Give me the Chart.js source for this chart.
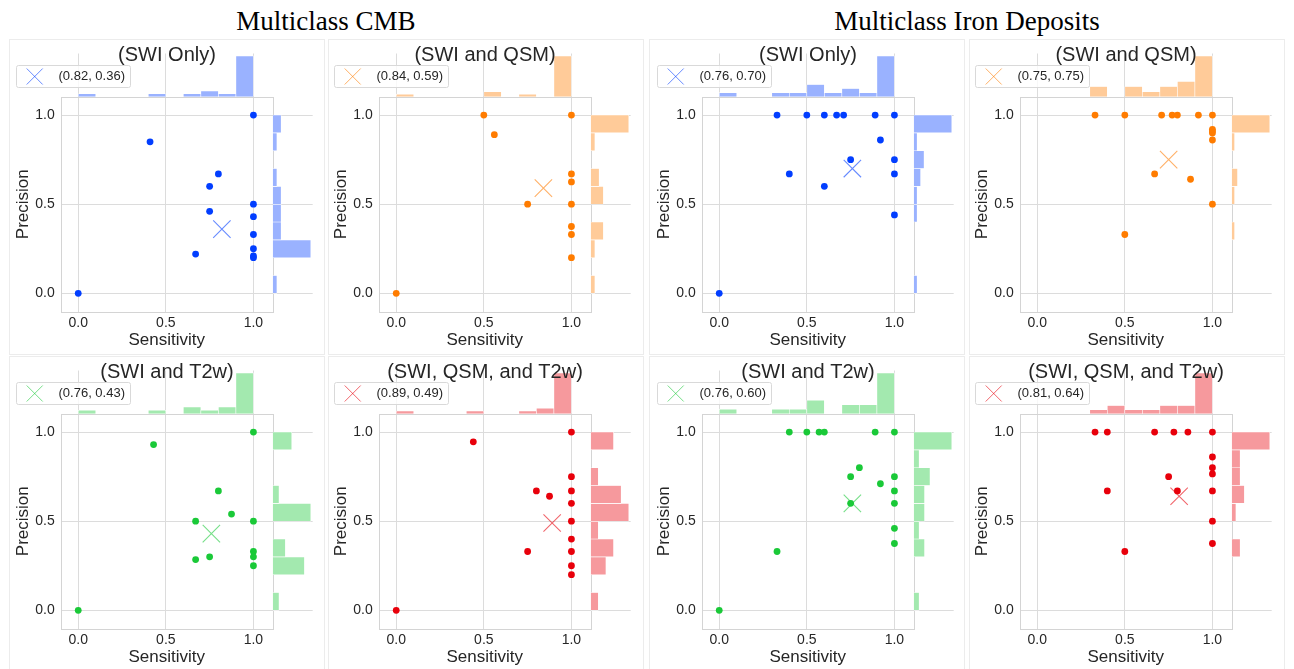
<!DOCTYPE html>
<html>
<head>
<meta charset="utf-8">
<script src="https://cdn.jsdelivr.net/npm/chart.js@4.4.1/dist/chart.umd.min.js"></script>
<style>
body { margin:0; background:#fff; width:1294px; height:669px; position:relative; overflow:hidden; }
.bigtitle { position:absolute; top:6px; font-family:"Liberation Serif","Times New Roman",serif; font-size:27px; line-height:30px; color:#000; transform:translateX(-50%); white-space:nowrap; }
.panel { position:absolute; width:316px; height:316px; border:1px solid #ececec; box-sizing:border-box; }
canvas { position:absolute; }
</style>
</head>
<body>
<div class="bigtitle" style="left:326px">Multiclass CMB</div>
<div class="bigtitle" style="left:967px">Multiclass Iron Deposits</div>
<script>
// histogram bins (0.1 wide, 0..1) and axis ticks
const binMids = [0.05, 0.15, 0.25, 0.35, 0.45, 0.55, 0.65, 0.75, 0.85, 0.95];
const tickVals = [0, 0.5, 1.0];

// Multiclass CMB - SWI only
const cmbSwiSens = [0, 0.41, 1, 0.8, 0.75, 0.75, 0.67, 1, 1, 1, 1, 1, 1];
const cmbSwiPrec = [0, 0.85, 1, 0.67, 0.6, 0.46, 0.22, 0.5, 0.43, 0.33, 0.25, 0.21, 0.2];
const cmbSwiSensHist = [1, 0, 0, 0, 1, 0, 1, 2, 1, 14];
const cmbSwiPrecHist = [1, 0, 9, 2, 2, 2, 1, 0, 1, 2];
// Multiclass CMB - SWI and QSM
const cmbQsmSens = [0, 0.5, 0.56, 1, 1, 1, 0.75, 1, 1, 1, 1];
const cmbQsmPrec = [0, 1, 0.89, 1, 0.67, 0.625, 0.5, 0.5, 0.375, 0.33, 0.2];
const cmbQsmSensHist = [1, 0, 0, 0, 0, 2, 0, 1, 0, 16];
const cmbQsmPrecHist = [1, 0, 1, 3, 0, 3, 2, 0, 1, 9];
// Multiclass CMB - SWI and T2w
const cmbT2Sens = [0, 0.43, 1, 0.8, 0.875, 0.67, 1, 1, 1, 0.75, 0.67, 1];
const cmbT2Prec = [0, 0.93, 1, 0.67, 0.54, 0.5, 0.5, 0.33, 0.3, 0.3, 0.285, 0.25];
const cmbT2SensHist = [1, 0, 0, 0, 1, 0, 2, 1, 2, 12];
const cmbT2PrecHist = [1, 0, 5, 2, 0, 6, 1, 0, 0, 3];
// Multiclass CMB - SWI, QSM and T2w
const cmbAllSens = [0, 0.44, 1, 1, 0.8, 0.875, 1, 1, 1, 1, 1, 0.75, 1, 1];
const cmbAllPrec = [0, 0.945, 1, 0.75, 0.67, 0.64, 0.67, 0.6, 0.5, 0.4, 0.33, 0.33, 0.25, 0.2];
const cmbAllSensHist = [1, 0, 0, 0, 1, 0, 0, 1, 2, 15];
const cmbAllPrecHist = [1, 0, 2, 3, 1, 5, 4, 1, 0, 3];

// Multiclass Iron - SWI only
const ironSwiSens = [0, 0.33, 0.5, 0.6, 0.67, 0.71, 0.89, 1, 0.92, 0.75, 1, 0.4, 1, 0.6, 1];
const ironSwiPrec = [0, 1, 1, 1, 1, 1, 1, 1, 0.86, 0.75, 0.75, 0.67, 0.67, 0.6, 0.44];
const ironSwiSensHist = [1, 0, 0, 1, 1, 3, 1, 2, 1, 10];
const ironSwiPrecHist = [1, 0, 0, 0, 1, 1, 2, 3, 1, 11];
// Multiclass Iron - SWI and QSM
const ironQsmSens = [0.33, 0.5, 0.71, 0.77, 0.8, 0.92, 1, 1, 1, 1, 1, 0.67, 0.875, 1, 0.5];
const ironQsmPrec = [1, 1, 1, 1, 1, 1, 1, 0.92, 0.91, 0.9, 0.86, 0.67, 0.64, 0.5, 0.33];
const ironQsmSensHist = [0, 0, 0, 2, 0, 2, 1, 2, 3, 8];
const ironQsmPrecHist = [0, 0, 0, 1, 0, 1, 2, 0, 1, 13];
// Multiclass Iron - SWI and T2w
const ironT2Sens = [0, 0.33, 0.4, 0.5, 0.57, 0.6, 0.89, 1, 0.8, 0.75, 1, 0.92, 1, 0.75, 1, 1, 1];
const ironT2Prec = [0, 0.33, 1, 1, 1, 1, 1, 1, 0.8, 0.75, 0.75, 0.71, 0.67, 0.6, 0.6, 0.46, 0.375];
const ironT2SensHist = [1, 0, 0, 1, 1, 3, 0, 2, 2, 9];
const ironT2PrecHist = [1, 0, 0, 2, 1, 2, 2, 3, 1, 7];
// Multiclass Iron - SWI, QSM and T2w
const ironAllSens = [0.33, 0.4, 0.67, 0.78, 0.86, 1, 1, 1, 1, 0.75, 0.4, 0.8, 1, 1, 1, 0.5];
const ironAllPrec = [1, 1, 1, 1, 1, 1, 0.86, 0.8, 0.765, 0.75, 0.67, 0.67, 0.67, 0.5, 0.375, 0.33];
const ironAllSensHist = [0, 0, 0, 1, 2, 1, 1, 2, 2, 10];
const ironAllPrecHist = [0, 0, 0, 2, 0, 1, 3, 2, 2, 9];

// mean (sensitivity, precision) per panel, in panel order
const meanSens = [0.82, 0.84, 0.76, 0.75, 0.76, 0.89, 0.76, 0.81];
const meanPrec = [0.36, 0.59, 0.70, 0.75, 0.43, 0.49, 0.60, 0.64];

const blue = { dot: '#023eff', bar: '#9ab2ff', cross: 'rgba(2,62,255,0.6)' };
const orange = { dot: '#ff7c00', bar: '#ffcb99', cross: 'rgba(255,124,0,0.6)' };
const green = { dot: '#1ac938', bar: '#a3e9af', cross: 'rgba(26,201,56,0.6)' };
const red = { dot: '#e8000b', bar: '#f6999d', cross: 'rgba(232,0,11,0.6)' };

const panels = [
  { title: '(SWI Only)', col: blue, sens: cmbSwiSens, prec: cmbSwiPrec, sh: cmbSwiSensHist, ph: cmbSwiPrecHist, left: 9, top: 39, bl: 9, bt: 39 },
  { title: '(SWI and QSM)', col: orange, sens: cmbQsmSens, prec: cmbQsmPrec, sh: cmbQsmSensHist, ph: cmbQsmPrecHist, left: 327, top: 39, bl: 328, bt: 39 },
  { title: '(SWI Only)', col: blue, sens: ironSwiSens, prec: ironSwiPrec, sh: ironSwiSensHist, ph: ironSwiPrecHist, left: 650, top: 39, bl: 649, bt: 39 },
  { title: '(SWI and QSM)', col: orange, sens: ironQsmSens, prec: ironQsmPrec, sh: ironQsmSensHist, ph: ironQsmPrecHist, left: 968, top: 39, bl: 969, bt: 39 },
  { title: '(SWI and T2w)', col: green, sens: cmbT2Sens, prec: cmbT2Prec, sh: cmbT2SensHist, ph: cmbT2PrecHist, left: 9, top: 356, bl: 9, bt: 356 },
  { title: '(SWI, QSM, and T2w)', col: red, sens: cmbAllSens, prec: cmbAllPrec, sh: cmbAllSensHist, ph: cmbAllPrecHist, left: 327, top: 356, bl: 328, bt: 356 },
  { title: '(SWI and T2w)', col: green, sens: ironT2Sens, prec: ironT2Prec, sh: ironT2SensHist, ph: ironT2PrecHist, left: 650, top: 356, bl: 649, bt: 356 },
  { title: '(SWI, QSM, and T2w)', col: red, sens: ironAllSens, prec: ironAllPrec, sh: ironAllSensHist, ph: ironAllPrecHist, left: 968, top: 356, bl: 969, bt: 356 }
];

const txt = '#262626';
const lineCol = '#dcdcdc';
Chart.defaults.font.family = '"Liberation Sans", Arial, sans-serif';

// frame around joint axes, panel title and mean legend
const panelDeco = {
  id: 'panelDeco',
  beforeDatasetsDraw(chart) {
    var sx = chart.scales.x, sy = chart.scales.y, ctx = chart.ctx;
    ctx.save();
    ctx.strokeStyle = '#d4d4d4';
    ctx.lineWidth = 1;
    ctx.strokeRect(Math.round(sx.left) + 0.5, Math.round(sy.top) + 0.5, Math.round(sx.right - sx.left), Math.round(sy.bottom - sy.top));
    ctx.restore();
  },
  afterDraw(chart, args, opts) {
    var ctx = chart.ctx;
    ctx.save();
    ctx.fillStyle = txt;
    ctx.font = '20px "Liberation Sans", Arial, sans-serif';
    ctx.textAlign = 'center';
    ctx.textBaseline = 'middle';
    ctx.fillText(opts.title, chart.width / 2, 16);

    ctx.beginPath();
    ctx.roundRect(7.5, 26.5, 114, 22, 2);
    ctx.fillStyle = 'rgba(255,255,255,0.8)';
    ctx.fill();
    ctx.strokeStyle = '#d9d9d9';
    ctx.lineWidth = 1;
    ctx.stroke();

    ctx.beginPath();
    ctx.strokeStyle = opts.cross;
    ctx.moveTo(17.7, 29.5); ctx.lineTo(33.7, 45.5);
    ctx.moveTo(33.7, 29.5); ctx.lineTo(17.7, 45.5);
    ctx.stroke();

    ctx.fillStyle = txt;
    ctx.font = '13px "Liberation Sans", Arial, sans-serif';
    ctx.textAlign = 'left';
    ctx.fillText('(' + opts.mx.toFixed(2) + ', ' + opts.my.toFixed(2) + ')', 49.5, 37.5);
    ctx.restore();
  }
};

function makePanel(p, i) {
  var box = document.createElement('div');
  box.className = 'panel';
  box.style.left = p.bl + 'px';
  box.style.top = p.bt + 'px';
  document.body.appendChild(box);

  var c = document.createElement('canvas');
  c.width = 316;
  c.height = 316;
  c.style.left = p.left + 'px';
  c.style.top = p.top + 'px';
  document.body.appendChild(c);

  var pts = p.sens.map((s, k) => ({ x: s, y: p.prec[k] }));
  var topBars = binMids.map((m, k) => ({ x: m, y: p.sh[k] }));
  var sideBars = binMids.map((m, k) => ({ x: p.ph[k], y: m }));

  new Chart(c, {
    type: 'scatter',
    data: {
      datasets: [
        { type: 'scatter', data: [{ x: meanSens[i], y: meanPrec[i] }], xAxisID: 'x', yAxisID: 'y',
          pointStyle: 'crossRot', pointRadius: 12.3, borderWidth: 1.1, borderColor: p.col.cross, backgroundColor: 'rgba(0,0,0,0)' },
        { type: 'scatter', data: pts, xAxisID: 'x', yAxisID: 'y',
          pointRadius: 3.4, borderWidth: 0, backgroundColor: p.col.dot },
        { type: 'bar', data: topBars, xAxisID: 'x', yAxisID: 'yTop', grouped: false,
          barPercentage: 1, categoryPercentage: 1, backgroundColor: p.col.bar, borderColor: '#fff', borderWidth: 0.6 },
        { type: 'bar', indexAxis: 'y', data: sideBars, xAxisID: 'xRight', yAxisID: 'y', grouped: false,
          barPercentage: 1, categoryPercentage: 1, backgroundColor: p.col.bar, borderColor: '#fff', borderWidth: 0.6 }
      ]
    },
    options: {
      responsive: false,
      animation: false,
      events: [],
      layout: { autoPadding: false, padding: { top: 14.5, right: 12.3, bottom: 0, left: 0 } },
      scales: {
        yTop: { type: 'linear', axis: 'y', position: 'left', stack: 'left', stackWeight: 43.2, weight: 1,
          display: false, offset: false, grid: { offset: false }, min: 0, max: Math.max(...p.sh) * 1.06 },
        y: { type: 'linear', axis: 'y', position: 'left', stack: 'left', stackWeight: 215, weight: 0,
          min: -0.103, max: 1.103, offset: false,
          afterBuildTicks: s => { s.ticks = tickVals.map(v => ({ value: v })); },
          afterFit: s => { s.width = 51.7; },
          border: { display: false },
          grid: { color: lineCol, drawTicks: false, offset: false },
          ticks: { color: txt, padding: 6, font: { size: 14 }, callback: v => v.toFixed(1) },
          title: { display: true, text: 'Precision', color: txt, font: { size: 17 }, padding: { top: 4, bottom: 4 } } },
        x: { type: 'linear', axis: 'x', position: 'bottom', stack: 'bottom', stackWeight: 212, weight: 0,
          min: -0.1, max: 1.11, offset: false,
          afterBuildTicks: s => { s.ticks = tickVals.map(v => ({ value: v })); },
          afterFit: s => { s.height = 43.3; },
          border: { display: false },
          grid: { color: lineCol, drawTicks: false, offset: false },
          ticks: { color: txt, padding: 3, font: { size: 14 }, maxRotation: 0, callback: v => v.toFixed(1) },
          title: { display: true, text: 'Sensitivity', color: txt, font: { size: 17 }, padding: { top: 4, bottom: 4 } } },
        xRight: { type: 'linear', axis: 'x', position: 'bottom', stack: 'bottom', stackWeight: 40, weight: 1,
          display: false, offset: false, grid: { offset: false }, min: 0, max: Math.max(...p.ph) * 1.05 }
      },
      plugins: {
        legend: { display: false },
        tooltip: { enabled: false },
        panelDeco: { title: p.title, cross: p.col.cross, mx: meanSens[i], my: meanPrec[i] }
      }
    },
    plugins: [panelDeco]
  });
}

panels.forEach((p, i) => makePanel(p, i));
</script>
</body>
</html>
